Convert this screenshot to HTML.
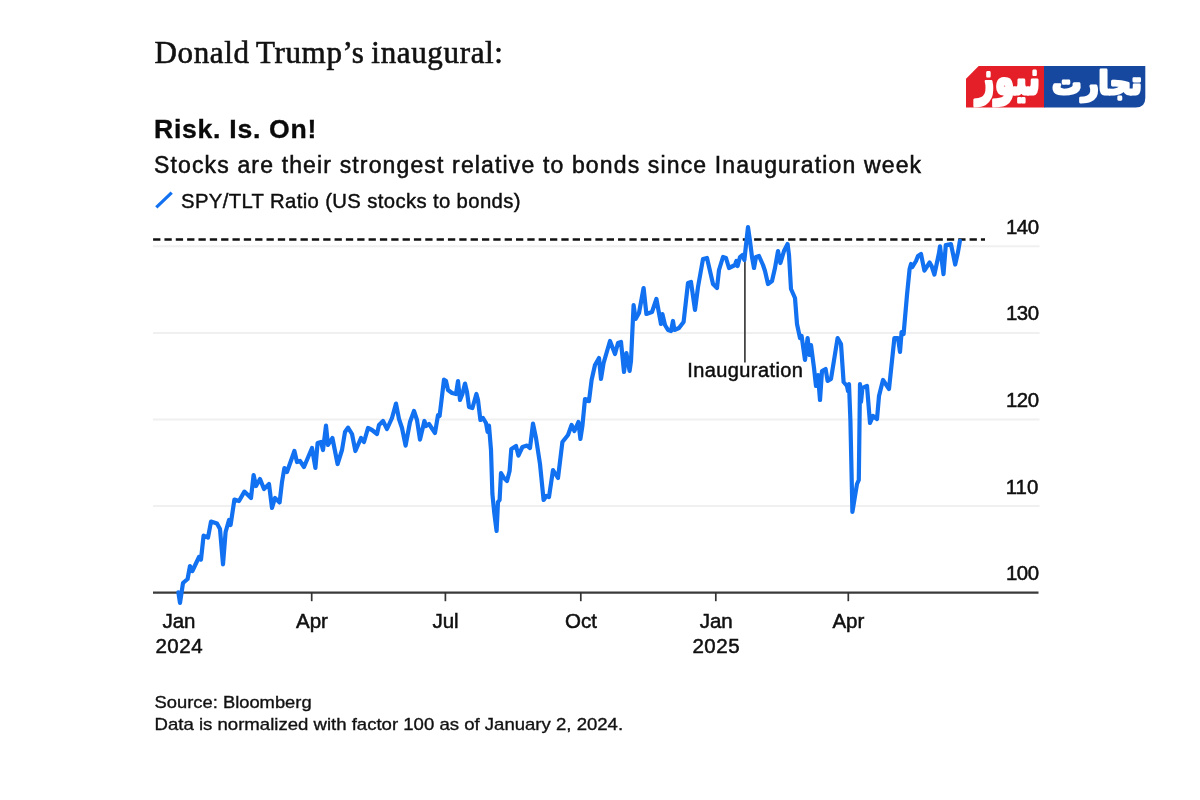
<!DOCTYPE html>
<html lang="en">
<head>
<meta charset="utf-8">
<title>Risk. Is. On!</title>
<style>
html,body{margin:0;padding:0;background:#fff;}
body{width:1200px;height:800px;position:relative;overflow:hidden;font-family:"Liberation Sans",sans-serif;color:#111;}
svg text#lead{font-family:"Liberation Serif",serif;font-size:31px;letter-spacing:0.66px;word-spacing:-1.6px;fill:#111;stroke:#111;stroke-width:0.6px;}
svg text#title{font-size:26.6px;font-weight:bold;letter-spacing:0.72px;fill:#0a0a0a;stroke:#0a0a0a;stroke-width:0.35px;}
svg text#sub{font-size:23px;letter-spacing:1.145px;fill:#111;stroke:#0c0c0c;stroke-width:0.5px;}
svg text#leg{font-size:20.3px;letter-spacing:0.37px;fill:#0e0e0e;stroke:#0e0e0e;stroke-width:0.42px;}
svg{position:absolute;left:0;top:0;filter:blur(0.45px);}
svg text{font-family:"Liberation Sans",sans-serif;fill:#111;}
svg text.lg{font-family:"DejaVu Sans",sans-serif;fill:#fff;}
</style>
</head>
<body>

<svg width="1200" height="800" viewBox="0 0 1200 800">
  <!-- headings -->
  <text id="lead" x="154.5" y="62.6">Donald Trump’s inaugural:</text>
  <text id="title" x="154" y="138">Risk. Is. On!</text>
  <text id="sub" x="154" y="173.2">Stocks are their strongest relative to bonds since Inauguration week</text>
  <text id="leg" x="181" y="208.4">SPY/TLT Ratio (US stocks to bonds)</text>
  <!-- legend swatch -->
  <line x1="156.3" y1="207.3" x2="171.7" y2="192.7" stroke="#1271f0" stroke-width="3.2" stroke-linecap="butt"/>
  <!-- gridlines -->
  <g stroke="#f0f0f0" stroke-width="2">
    <line x1="153" y1="246.2" x2="1039.5" y2="246.2"/>
    <line x1="153" y1="332.9" x2="1039.5" y2="332.9"/>
    <line x1="153" y1="419.5" x2="1039.5" y2="419.5"/>
    <line x1="153" y1="506" x2="1039.5" y2="506"/>
  </g>
  <!-- dashed reference line -->
  <line x1="153.1" y1="239.5" x2="985" y2="239.5" stroke="#111" stroke-width="2.6" stroke-dasharray="7.3 4.04"/>
  <!-- x axis -->
  <line x1="153" y1="592.6" x2="1038.5" y2="592.6" stroke="#3a3a3a" stroke-width="2.2"/>
  <g stroke="#333" stroke-width="1.7">
    <line x1="311.7" y1="592" x2="311.7" y2="601.2"/>
    <line x1="445.4" y1="592" x2="445.4" y2="601.2"/>
    <line x1="580.8" y1="592" x2="580.8" y2="601.2"/>
    <line x1="715.8" y1="592" x2="715.8" y2="601.2"/>
    <line x1="848.3" y1="592" x2="848.3" y2="601.2"/>
  </g>
  <!-- annotation -->
  <line x1="744.9" y1="258" x2="744.9" y2="362.5" stroke="#3c3c3c" stroke-width="1.7"/>
  <!-- series -->
  <polyline fill="none" stroke="#1271f0" stroke-width="4.2" stroke-linejoin="round" stroke-linecap="round" points="178.4,592.4 180,603 183,583 187.6,579 190,566 192.4,571 199,557 201,559.6 203.6,535.6 208,537.6 211,521.6 217,523.6 220,529 223,564.4 225.6,532 229,520 230.6,525 234.4,499.6 239,501 244.4,491.6 251,498 253.6,475 256,486 260,479 264,489 269,484 272,508 275,498 279.6,502.4 282,482 284.4,468 287,472 294.4,451 297,462 300,461 304,467 312,448 315.4,468 317.6,443 321,442 323,450 326,425.6 328,445 332.4,438 337.6,464 342,450 345,432 348,427.6 352,434 355.4,451 361,438 364,442 368,428 372,430 377,434 379,425 383,421 387,429 392,418 396,403.6 399,419 402,428 405.6,445.6 410,422 414,411 417,420 420,439.6 424.4,421 426,426 429,424 435,433 438,415 439.6,416 444,379.6 446,381 448,390 452,393 456,394 458,381 460,400 462.4,394 465,383.6 467,392 469,407 472.4,408 476.4,394 478,400 480.4,420 483,418 486,423 487.6,432 489,425.6 491,450 492.4,494 494.4,514 496.6,531 498,502 499.6,500 501,473 504,478 507,481 509.6,471 511.3,449 516,446 518.4,455.6 522.4,447 527,445.6 530,448 533,423.6 536,438 540,464 543.6,500 546.4,496 549,497 553,470 558,478 562.4,442 568,435 571.6,425 574.4,431 578.4,422 580.4,439 582.4,426 585,399 589,401 591.6,380 595,365 599,358 601,379 603.6,363 610,341 615,354 618,343 621,342 624,372 626.4,353 629.6,371 631,361 633.6,305 635.6,319 639,313 643.6,288 646.4,314 652,312 656.4,299 661,324 662.4,314 665,325 668,330 671,331 673,321 674.4,330 679,328 683.6,322 688,283 691,282 695,310 698,287 703,259 707,258 710,271 713,284 717,288 719,270 723,257 726,258 729,268 735,265 736.4,261 737.6,266 740,257 742.4,255 744.4,260 746,245 748,227 750,241 752,257 754,268 756,257 759,256 763,265 765,271 768,284 772,281 775,268 778,251 780.4,263 784,251 787.6,244 789,255 791,289 795,298 797,324 800,338 801.6,336 805,360 807.6,338 809.6,355 811,345 814,368 816,386 818,375 820,400 822,371 825.6,369 827.6,381 831,379 837.6,338 841,344 843.6,382 847,386 848,391 849,384 850.4,420 852.4,512 857,484 858.8,480 860,384 861,402 862.4,388 867,386 870,423 873,416 877,419 879,396 883,380 889,389 894.4,338 898,338 900,352 901.6,332 903.6,334 907,295 909.6,269 911,264 912.4,267 916,261 918,256 921,254 924.4,270.6 929.6,262.5 931.6,266 934.4,274.6 939,253 940,246.3 943.5,274.2 945.8,245 951,244.2 955.2,264.5 958,252 959.9,240.8"/>
  <text x="745.3" y="376.8" text-anchor="middle" font-size="20" letter-spacing="0.4" style="fill:#0d0d0d" stroke="#0d0d0d" stroke-width="0.45">Inauguration</text>
  <!-- y labels -->
  <g font-size="20.4" text-anchor="end" letter-spacing="-0.5" style="fill:#0d0d0d" stroke="#0d0d0d" stroke-width="0.5">
    <text x="1038.5" y="233.5">140</text>
    <text x="1038.5" y="320.2">130</text>
    <text x="1038.5" y="406.8">120</text>
    <text x="1038.5" y="493.5" letter-spacing="0.1">110</text>
    <text x="1038.5" y="580">100</text>
  </g>
  <!-- x labels -->
  <g font-size="20.5" text-anchor="middle" style="fill:#0d0d0d" stroke="#0d0d0d" stroke-width="0.5">
    <text x="179" y="627.6">Jan</text>
    <text x="179.3" y="653" letter-spacing="0.55">2024</text>
    <text x="312" y="627.6">Apr</text>
    <text x="445.5" y="627.6">Jul</text>
    <text x="581" y="627.6">Oct</text>
    <text x="716.2" y="627.6">Jan</text>
    <text x="716.3" y="653" letter-spacing="0.55">2025</text>
    <text x="848.4" y="627.6">Apr</text>
  </g>
  <!-- footer -->
  <g font-size="16.6" style="fill:#151515" stroke="#151515" stroke-width="0.35">
    <text x="154.6" y="707.6" textLength="157" lengthAdjust="spacingAndGlyphs">Source: Bloomberg</text>
    <text x="154.6" y="730" textLength="468.5" lengthAdjust="spacingAndGlyphs">Data is normalized with factor 100 as of January 2, 2024.</text>
  </g>
  <!-- logo -->
  <g id="logo" transform="translate(966,66)">
    <path d="M12.7,0 L78.5,0 L78.5,41.6 L0,41.6 L0,12.7 Z" fill="#e41f27"/>
    <path d="M78,0 L179.3,0 L179.3,32 Q179.3,41.6 169.5,41.6 L78,41.6 Z" fill="#17489f"/>
    <g font-family="'DejaVu Sans',sans-serif" font-weight="bold" font-size="27" text-anchor="middle" fill="#fff" stroke="#fff" stroke-linejoin="round">
      <g transform="translate(41.9,27.5) scale(1.2,1.78)"><text class="lg" x="0" y="0" stroke-width="1.7">نیوز</text></g>
      <g transform="translate(131,28.2) scale(1.09,1.15)"><text class="lg" x="0" y="0" stroke-width="2.5">تجارت</text></g>
    </g>
  </g>
</svg>


</body>
</html>
